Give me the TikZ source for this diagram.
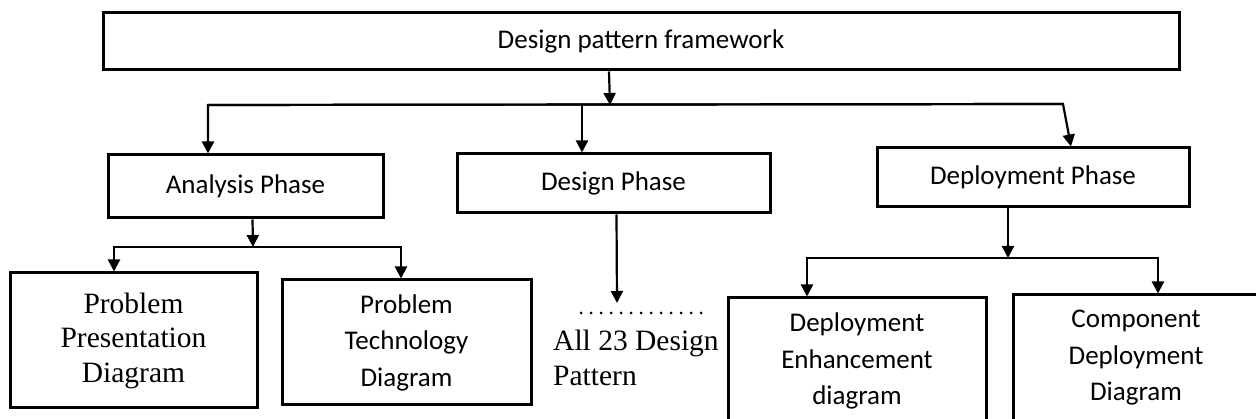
\documentclass[tikz,border=0pt]{standalone}
\usepackage{fontspec}
\setmainfont{Carlito}
\newfontfamily\tnr{Liberation Serif}
\usetikzlibrary{arrows.meta,calc}
\begin{document}
\begin{tikzpicture}[x=1pt,y=-1pt,
  box/.style={draw,line width=3pt,inner sep=0pt,align=center,font=\fontsize{27}{36.5}\selectfont},
  lbl/.style={inner sep=0pt,align=center,font=\fontsize{27}{36.5}\selectfont},
  ser/.style={font=\tnr\fontsize{29.5}{34.5}\selectfont},
  arr/.style={line width=2.2pt,-{Triangle[width=12pt,length=12pt]}},
  dotline/.style={line width=3pt,dash pattern=on 0pt off 10pt,line cap=round}
]
\useasboundingbox (0,0) rectangle (1256,419);
\clip (0,0) rectangle (1256,419);

% boxes
\node[box,minimum width=1076pt,minimum height=57pt] (top) at (641,41.5) {Design pattern framework};
\node[box,minimum width=275pt,minimum height=63pt] (analysis) at (245.5,186.5) {Analysis Phase};
\node[box,minimum width=313pt,minimum height=59pt] (design) at (613.5,183.5) {Design Phase};
\node[box,minimum width=312pt,minimum height=59pt] (deploy) at (1033,177.5) {Deployment Phase};
\node[box,ser,minimum width=247pt,minimum height=135pt] (ppd) at (133.5,340.5) {Problem\\Presentation\\Diagram};
\node[box,minimum width=249pt,minimum height=125pt] (ptd) at (406.5,342.5) {Problem\\Technology\\Diagram};
\node[box,minimum width=258pt,minimum height=150pt] (ded) at (857,373) {};
\node[lbl] (dedt) at (857,361) {Deployment\\Enhancement\\diagram};
\node[box,minimum width=260pt,minimum height=150pt] (cdd) at (1143,370) {};
\node[lbl] (cddt) at (1136,358) {Component\\Deployment\\Diagram};
\node[ser,inner sep=0pt,align=left,anchor=north west] (all) at (553,330) {All 23 Design\\Pattern};

% top level connectors
\coordinate (j1) at (610,105);
\coordinate (bL) at (208,105);
\coordinate (bR) at (1063,104);
\coordinate (jm) at (582,105);
\draw[arr] ([xshift=-32pt]top.south) -- (j1);
\draw[arr] (bR) -- (bL) -- (bL |- analysis.north);
\draw[arr] (bL) -- (bR) -- ([xshift=38pt]deploy.north);
\draw[arr] (jm) -- (jm |- design.north);

% analysis
\coordinate (j2) at (253,247);
\coordinate (aL) at (114,247);
\coordinate (aR) at (401,247);
\draw[arr] ([xshift=7pt]analysis.south) -- (j2);
\draw[arr] (aR) -- (aL) -- (aL |- ppd.north);
\draw[arr] (aL) -- (aR) -- (aR |- ptd.north);

% design
\coordinate (dots) at (617,303);
\coordinate (dL) at (581,313);
\coordinate (dR) at (702,313);
\draw[arr] ([xshift=3pt]design.south) -- (dots);
\draw[dotline] (dL) -- (dR);

% deployment
\coordinate (j3) at (1008,258);
\coordinate (eL) at (807,258);
\coordinate (eR) at (1158,258);
\draw[arr] ([xshift=-25pt]deploy.south) -- (j3);
\draw[arr] (eR) -- (eL) -- (eL |- ded.north);
\draw[arr] (eL) -- (eR) -- (eR |- cdd.north);
\end{tikzpicture}
\end{document}
